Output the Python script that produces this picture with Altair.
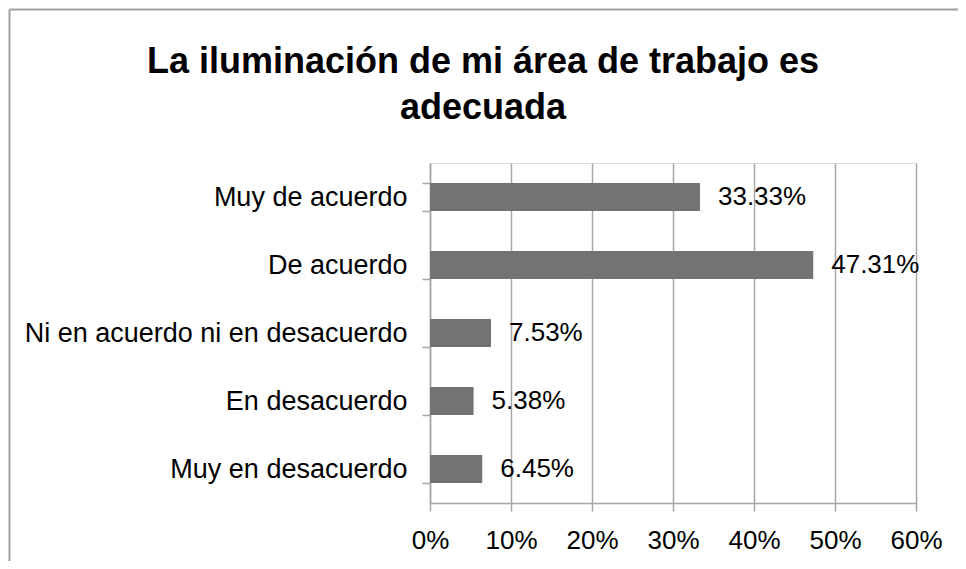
import altair as alt
import pandas as pd

categories = ["Muy de acuerdo", "De acuerdo", "Ni en acuerdo ni en desacuerdo",
              "En desacuerdo", "Muy en desacuerdo"]
values = [33.33, 47.31, 7.53, 5.38, 6.45]
tick_values = [0, 0.1, 0.2, 0.3, 0.4, 0.5, 0.6]
title_lines = ["La iluminación de mi área de trabajo es", "adecuada"]

df = pd.DataFrame({
    "cat": categories,
    "val": [v / 100 for v in values],
    "lab": [f"{v:.2f}%" for v in values],
})

FONT = "Liberation Sans"
GRID = "#a6a6a6"

y_enc = alt.Y("cat:N", sort=categories,
              scale=alt.Scale(paddingInner=0.59, paddingOuter=0.295),
              axis=alt.Axis(title=None, tickBand="extent", domain=True,
                            domainColor=GRID, tickColor=GRID, tickSize=8,
                            tickWidth=1.5, domainWidth=1.5,
                            labelFont=FONT, labelFontSize=27, labelColor="black",
                            labelPadding=15, grid=False, labelLimit=600))
x_enc = alt.X("val:Q", scale=alt.Scale(domain=[0, 0.6], nice=False),
              axis=alt.Axis(title=None, values=tick_values, format=".0%",
                            grid=True, gridColor=GRID, gridWidth=1.5,
                            domain=True, domainColor=GRID, domainWidth=1.5,
                            tickColor=GRID, tickWidth=1.5, tickSize=8,
                            labelFont=FONT, labelFontSize=26, labelColor="black",
                            labelPadding=16, labelFlush=False, labelOverlap=False))

bars = alt.Chart(df).mark_bar(color="#737373").encode(x=x_enc, y=y_enc)
labels = alt.Chart(df).mark_text(align="left", baseline="middle", dx=18,
                                 font=FONT, fontSize=26, color="black").encode(
    x="val:Q", y=alt.Y("cat:N", sort=categories), text="lab:N")

t1 = alt.Chart(pd.DataFrame({"t": [title_lines[0]]})).mark_text(
    align="center", baseline="alphabetic", font=FONT, fontSize=36,
    fontWeight="bold", color="black").encode(
    text="t:N", x=alt.value(53), y=alt.value(-90))
t2 = alt.Chart(pd.DataFrame({"t": [title_lines[1]]})).mark_text(
    align="center", baseline="alphabetic", font=FONT, fontSize=36,
    fontWeight="bold", color="black").encode(
    text="t:N", x=alt.value(53), y=alt.value(-44))

border_top = alt.Chart(pd.DataFrame({"a": [0]})).mark_rule(
    color="#a0a0a0", strokeWidth=2).encode(
    x=alt.value(-420.5), x2=alt.value(540), y=alt.value(-153.5))
border_left = alt.Chart(pd.DataFrame({"a": [0]})).mark_rule(
    color="#a0a0a0", strokeWidth=2).encode(
    x=alt.value(-420.5), y=alt.value(-153.5), y2=alt.value(420))

chart = alt.layer(bars, labels, t1, t2, border_top, border_left).properties(
    width=486, height=340,
    autosize=alt.AutoSizeParams(type="none"),
    padding={"left": 422, "top": 155, "right": 42, "bottom": 58},
).configure_view(stroke=None).configure(background="white")

chart.save("out.html", embed_options={"renderer": "svg", "actions": False})
